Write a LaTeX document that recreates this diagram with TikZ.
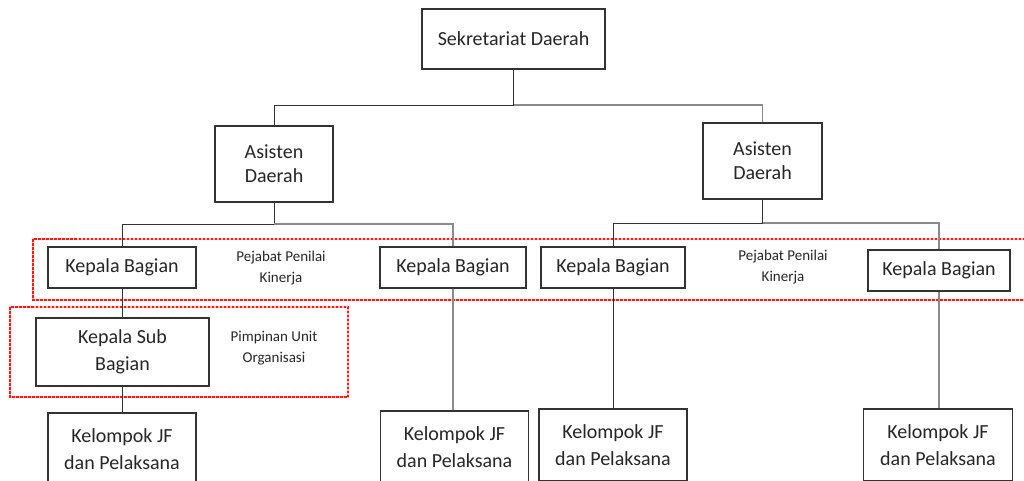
\documentclass[tikz,border=0pt]{standalone}
\usepackage{fontspec}
\setmainfont{Carlito}
\definecolor{boxline}{HTML}{333333}
\definecolor{softline}{HTML}{8A8A8A}
\definecolor{zonered}{HTML}{FF1A1A}
\begin{document}
\begin{tikzpicture}[x=1pt,y=-1pt,
  box/.style={draw=boxline, line width=1.1pt, fill=white, align=center,
    inner sep=0pt, text=black!85, font=\fontsize{20}{24}\selectfont},
  tallbox/.style={box, font=\fontsize{20}{27}\selectfont},
  note/.style={align=center, inner sep=0pt, text=black!85,
    font=\fontsize{15}{21}\selectfont},
  link/.style={draw=boxline, line width=1pt},
  softlink/.style={draw=softline, line width=1.1pt},
  zonebase/.style={draw=zonered!30, line width=1.2pt},
  zone/.style={draw=zonered, line width=1.2pt, dash pattern=on 2.5pt off 1.5pt}]
\useasboundingbox (0,0) rectangle (1024,480);

% dashed groupings (pale base under the red dashes)
\draw[zonebase] (33,239) rectangle (1030,300);
\draw[zonebase] (10,307) rectangle (348,397);
\draw[zone] (33,239) rectangle (1030,300);
\draw[zone] (10,307) rectangle (348,397);

% boxes
\node[box, minimum width=183pt, minimum height=60pt] (sek) at (513.5,39) {Sekretariat Daerah};
\node[box, minimum width=118pt, minimum height=76pt] (asL) at (274,164) {Asisten\\Daerah};
\node[box, minimum width=119pt, minimum height=76pt] (asR) at (762.5,161) {Asisten\\Daerah};

\node[box, minimum width=148pt, minimum height=41pt] (kb1) at (122,267.5) {Kepala Bagian};
\node[box, minimum width=146pt, minimum height=41pt] (kb2) at (453,267.5) {Kepala Bagian};
\node[box, minimum width=144pt, minimum height=41pt] (kb3) at (613,267.5) {Kepala Bagian};
\node[box, minimum width=142pt, minimum height=41pt] (kb4) at (939,270.5) {Kepala Bagian};

\node[tallbox, minimum width=173pt, minimum height=68pt] (ksb) at (122.5,352) {Kepala Sub\\Bagian};

\node[tallbox, minimum width=148pt, minimum height=72pt] (kj1) at (122,449) {Kelompok JF\\dan Pelaksana};
\node[tallbox, minimum width=148pt, minimum height=72pt] (kj2) at (454.5,447) {Kelompok JF\\dan Pelaksana};
\node[tallbox, minimum width=148pt, minimum height=72pt] (kj3) at (613,445) {Kelompok JF\\dan Pelaksana};
\node[tallbox, minimum width=149pt, minimum height=72pt] (kj4) at (938,445) {Kelompok JF\\dan Pelaksana};

% side notes
\node[note] (n1) at (281,268) {Pejabat Penilai\\Kinerja};
\node[note] (n2) at (783,267) {Pejabat Penilai\\Kinerja};
\node[note] (n3) at (274,348) {Pimpinan Unit\\Organisasi};

% connector levels
\coordinate (lv1) at (0,105);
\coordinate (lv2) at (0,224);
\coordinate (lv3) at (0,223);

\draw[link] (sek.south) -- (sek.south |- lv1) coordinate (t1);
\draw[link] (t1) -| (asL.north);
\draw[softlink] (t1) -| (asR.north);

\draw[link] (asL.south) -- (asL.south |- lv2) coordinate (t2);
\draw[link] (t2) -| (kb1.north);
\draw[softlink] (t2) -| (kb2.north);

\draw[link] (asR.south) -- (asR.south |- lv3) coordinate (t3);
\draw[link] (t3) -| (kb3.north);
\draw[softlink] (t3) -| (kb4.north);

\draw[link] (kb1.south) -- (kb1.south |- ksb.north);
\draw[link] (ksb.south) -- (ksb.south |- kj1.north);
\draw[softlink] (kb2.south) -- (kb2.south |- kj2.north);
\draw[link] (kb3.south) -- (kb3.south |- kj3.north);
\draw[softlink] (kb4.south) -- (kb4.south |- kj4.north);
\end{tikzpicture}
\end{document}
